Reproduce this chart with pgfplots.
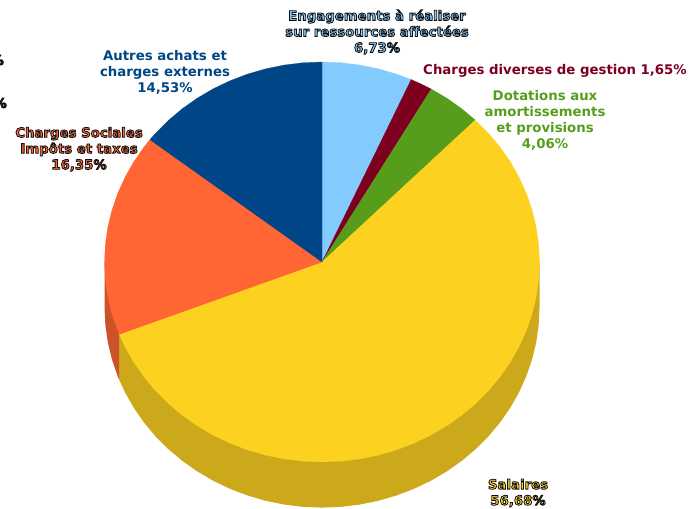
\documentclass[border=0pt]{standalone}
\usepackage{fontspec}
\setmainfont{DejaVu Sans}
\usepackage{pgfplots}
\pgfplotsset{compat=1.18}
\definecolor{engag}{HTML}{83CAFF}
\definecolor{divers}{HTML}{7E0021}
\definecolor{dotat}{HTML}{579D1C}
\definecolor{salaires}{HTML}{FDD11F}
\definecolor{sociales}{HTML}{FF6633}
\definecolor{autres}{HTML}{004586}
\definecolor{salwall}{HTML}{CCA91A}
\definecolor{socwall}{HTML}{CC5229}
% text with a dark outline
\newcommand\halo[1]{\special{pdf:code q 2 Tr 0.8 w 0.05 0.05 0.05 RG}#1\special{pdf:code Q}}
\tikzset{lab/.style={font=\fontsize{13.3}{16}\selectfont\bfseries, align=center, inner sep=0pt, anchor=center}}
\pgfplotsset{slice/.style={fill=#1, draw=#1, line width=0.2pt, data cs=polar}}
\begin{document}
\begin{tikzpicture}
\begin{axis}[
  width=700pt, height=508pt,
  scale only axis,
  hide axis,
  xmin=-1.4805, xmax=1.7379,
  ymin=-1.23, ymax=1.31,
]
  % keeps the page as large as the axis box, hide axis does not
  \path (rel axis cs:0,0) rectangle (rel axis cs:1,1);
  % side walls (angle, radius, depth)
  \addplot[fill=salwall, draw=none] table[x expr=\thisrow{r}*cos(\thisrow{a}), y expr=\thisrow{r}*sin(\thisrow{a})-\thisrow{d}] {
    a r d
    0 1 0
    0 1 0.228
    -5 1 0.228
    -10 1 0.228
    -15 1 0.228
    -20 1 0.228
    -25 1 0.228
    -30 1 0.228
    -35 1 0.228
    -40 1 0.228
    -45 1 0.228
    -50 1 0.228
    -55 1 0.228
    -60 1 0.228
    -65 1 0.228
    -70 1 0.228
    -75 1 0.228
    -80 1 0.228
    -85 1 0.228
    -90 1 0.228
    -95 1 0.228
    -100 1 0.228
    -105 1 0.228
    -110 1 0.228
    -115 1 0.228
    -120 1 0.228
    -125 1 0.228
    -130 1 0.228
    -135 1 0.228
    -140 1 0.228
    -145 1 0.228
    -150 1 0.228
    -155 1 0.228
    -158.8 1 0.228
    -158.8 1 0
    0 0 0
  } -- cycle;
  \addplot[fill=socwall, draw=none] table[x expr=\thisrow{r}*cos(\thisrow{a}), y expr=\thisrow{r}*sin(\thisrow{a})-\thisrow{d}] {
    a r d
    -158.8 1 0
    -158.8 1 0.228
    -160 1 0.228
    -165 1 0.228
    -170 1 0.228
    -175 1 0.228
    -180 1 0.228
    -180 1 0
    0 0 0
  } -- cycle;
  % top face, (angle, radius)
  \addplot[slice=engag] coordinates {(0,0) (90,1) (85,1) (80,1) (75,1) (70,1) (65.8,1)} -- cycle;
  \addplot[slice=divers] coordinates {(0,0) (65.8,1) (62.8,1) (59.84,1)} -- cycle;
  \addplot[slice=dotat] coordinates {(0,0) (59.84,1) (55,1) (50,1) (45.2,1)} -- cycle;
  \addplot[slice=salaires] coordinates {(0,0) (45.2,1) (40,1) (35,1) (30,1) (25,1) (20,1) (15,1) (10,1) (5,1)
    (0,1) (-5,1) (-10,1) (-15,1) (-20,1) (-25,1) (-30,1) (-35,1) (-40,1) (-45,1) (-50,1) (-55,1) (-60,1)
    (-65,1) (-70,1) (-75,1) (-80,1) (-85,1) (-90,1) (-95,1) (-100,1) (-105,1) (-110,1) (-115,1) (-120,1)
    (-125,1) (-130,1) (-135,1) (-140,1) (-145,1) (-150,1) (-155,1) (-158.8,1)} -- cycle;
  \addplot[slice=sociales] coordinates {(0,0) (201.2,1) (195,1) (190,1) (185,1) (180,1) (175,1) (170,1)
    (165,1) (160,1) (155,1) (150,1) (145,1) (142.3,1)} -- cycle;
  \addplot[slice=autres] coordinates {(0,0) (142.3,1) (140,1) (135,1) (130,1) (125,1) (120,1) (115,1)
    (110,1) (105,1) (100,1) (95,1) (90,1)} -- cycle;
  % labels
  \node[lab, text=engag] at (rel axis cs:0.5386,0.9370) {\halo{Engagements à réaliser}\\\halo{sur ressources affectées}\\\halo{6,73\%}};
  \node[lab, text=divers] at (rel axis cs:0.7929,0.8602) {Charges diverses de gestion 1,65\%};
  \node[lab, text=dotat] at (rel axis cs:0.7786,0.7638) {Dotations aux\\amortissements\\et provisions\\4,06\%};
  \node[lab, text=autres] at (rel axis cs:0.2357,0.8583) {Autres achats et\\charges externes\\14,53\%};
  \node[lab, text=sociales] at (rel axis cs:0.1129,0.7063) {\halo{Charges Sociales}\\\halo{Impôts et taxes}\\\halo{16,35\%}};
  \node[lab, text=salaires] at (rel axis cs:0.74,0.0295) {\halo{Salaires}\\\halo{56,68\%}};
  % labels cut by the left edge of the picture
  \node[lab, text=divers, anchor=east, overlay] at (rel axis cs:0.0057,0.8819) {\halo{\%}};
  \node[lab, text=autres, anchor=east, overlay] at (rel axis cs:0.0100,0.7972) {\halo{\%}};
\end{axis}
\end{tikzpicture}
\end{document}
